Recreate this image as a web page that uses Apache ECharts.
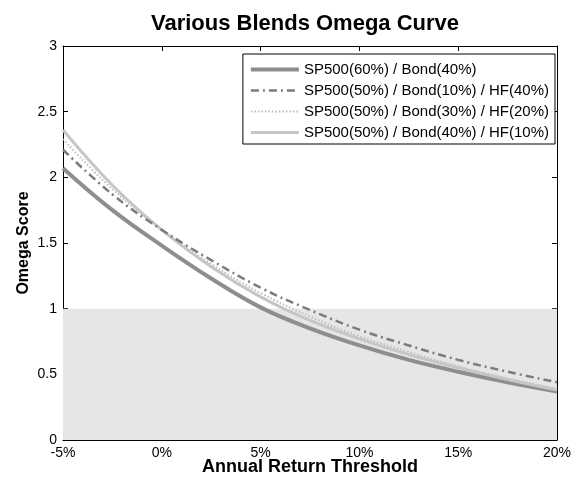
<!DOCTYPE html>
<html>
<head>
    <meta http-equiv="Content-Type" content="text/html; charset=utf-8" />
    <title>Various Blends Omega Curve</title>
    <script src="https://cdn.jsdelivr.net/npm/echarts@6/dist/echarts.min.js"></script>
</head>
<body style="margin:0;background:#fff;">
    <div id="main" style="width: 579px;height:483px;"></div>
</body>
<script type="text/javascript">
    // thresholds (%)
    var thresholds = [-5, -2.5, 0, 2.5, 5, 7.5, 10, 12.5, 15, 17.5, 20];
    var seriesNames = [
        'SP500(60%) / Bond(40%)',
        'SP500(50%) / Bond(10%) / HF(40%)',
        'SP500(50%) / Bond(30%) / HF(20%)',
        'SP500(50%) / Bond(40%) / HF(10%)'
    ];
    var blend60_40 = [2.07, 1.75, 1.48, 1.23, 1.01, 0.85, 0.72, 0.61, 0.52, 0.44, 0.37];
    var blend50_10_40 = [2.21, 1.87, 1.60, 1.37, 1.16, 0.99, 0.84, 0.72, 0.61, 0.52, 0.44];
    var blend50_30_20 = [2.29, 1.91, 1.60, 1.34, 1.12, 0.94, 0.79, 0.67, 0.56, 0.47, 0.39];
    var blend50_40_10 = [2.36, 1.94, 1.60, 1.32, 1.09, 0.91, 0.77, 0.65, 0.55, 0.46, 0.38];
    var shadeLimit = 1;

    var font = '"Liberation Sans", Arial, sans-serif';
    var myChart = echarts.init(document.getElementById('main'));

    function pairs(vals) {
        return thresholds.map(function (t, i) { return [t, vals[i]]; });
    }

    var styles = [
        { color: '#8e8e8e', width: 4, type: 'solid' },
        { color: '#7c7c7c', width: 2.5, type: [8, 4, 2, 4] },
        { color: '#bdbdbd', width: 2, type: [1.5, 2] },
        { color: '#c6c6c6', width: 3, type: 'solid' }
    ];
    var allData = [blend60_40, blend50_10_40, blend50_30_20, blend50_40_10];

    var series = allData.map(function (vals, i) {
        return {
            name: seriesNames[i],
            type: 'line',
            smooth: 0.4,
            symbol: 'none',
            data: pairs(vals),
            z: i === 1 ? 5 : 3,
            itemStyle: { color: styles[i].color },
            lineStyle: { color: styles[i].color, width: styles[i].width, type: styles[i].type }
        };
    });
    // shaded area below omega = 1
    series.push({
        type: 'line',
        data: [],
        silent: true,
        markArea: {
            silent: true,
            itemStyle: { color: '#e6e6e6' },
            data: [[{ yAxis: 0 }, { yAxis: shadeLimit }]]
        }
    });

    var legendData = seriesNames.map(function (n, i) {
        return {
            name: n,
            itemStyle: { opacity: 0 },
            lineStyle: { color: styles[i].color, width: styles[i].width, type: styles[i].type }
        };
    });

    var tickStyle = { show: true, inside: true, length: 5, lineStyle: { color: '#000' } };
    var axisLine = { show: true, onZero: false, lineStyle: { color: '#000', width: 1 } };

    var option = {
        animation: false,
        backgroundColor: '#fff',
        title: {
            text: 'Various Blends Omega Curve',
            left: 300,
            textAlign: 'center',
            top: 8,
            textStyle: { fontFamily: font, fontSize: 22, fontWeight: 'bold', color: '#000' }
        },
        legend: {
            right: 24,
            top: 54,
            orient: 'vertical',
            itemWidth: 48,
            itemHeight: 14,
            itemGap: 6,
            padding: [8, 6, 4, 6],
            borderColor: '#000',
            borderWidth: 1,
            borderRadius: 0,
            backgroundColor: '#fff',
            itemStyle: { opacity: 0 },
            data: legendData,
            textStyle: { fontFamily: font, fontSize: 15, color: '#000' }
        },
        grid: { left: 63, right: 22, top: 46, bottom: 43, outerBoundsMode: 'none' },
        xAxis: [{
            type: 'value',
            min: -5,
            max: 20,
            interval: 5,
            name: 'Annual Return Threshold',
            nameLocation: 'middle',
            nameGap: 18,
            nameMoveOverlap: false,
            nameTextStyle: { fontFamily: font, fontSize: 18, fontWeight: 'bold', color: '#000' },
            axisLine: axisLine,
            axisTick: tickStyle,
            splitLine: { show: false },
            axisLabel: {
                fontFamily: font, fontSize: 14, color: '#000', margin: 6,
                formatter: function (v) { return v + '%'; }
            }
        }, {
            type: 'value', position: 'top', min: -5, max: 20, interval: 5,
            axisLine: axisLine, axisTick: tickStyle, axisLabel: { show: false }, splitLine: { show: false }
        }],
        yAxis: [{
            type: 'value',
            min: 0,
            max: 3,
            interval: 0.5,
            name: 'Omega Score',
            nameLocation: 'middle',
            nameGap: 31,
            nameMoveOverlap: false,
            nameTextStyle: { fontFamily: font, fontSize: 16, fontWeight: 'bold', color: '#000' },
            axisLine: axisLine,
            axisTick: tickStyle,
            splitLine: { show: false },
            axisLabel: { fontFamily: font, fontSize: 14, color: '#000', margin: 6 }
        }, {
            type: 'value', position: 'right', min: 0, max: 3, interval: 0.5,
            axisLine: axisLine, axisTick: tickStyle, axisLabel: { show: false }, splitLine: { show: false }
        }],
        series: series
    };

    myChart.setOption(option);
</script>
</html>
